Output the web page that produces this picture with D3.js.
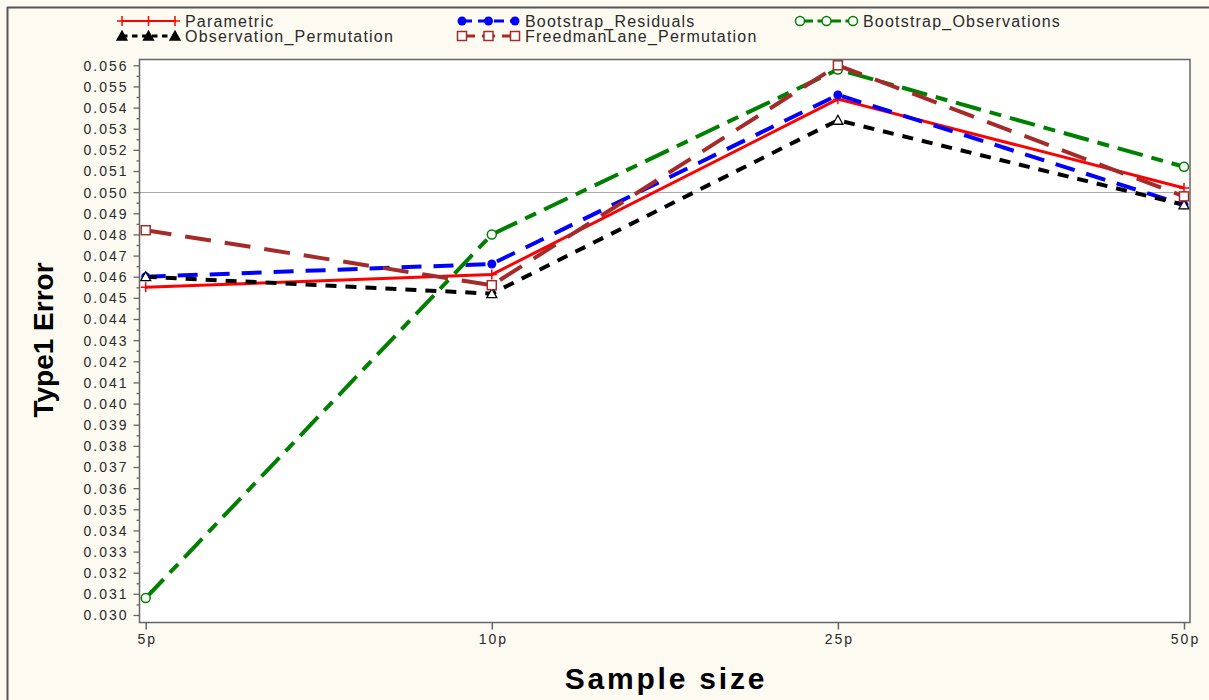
<!DOCTYPE html>
<html>
<head>
<meta charset="utf-8">
<script src="https://cdn.jsdelivr.net/npm/d3@7"></script>
<style>
  html, body { margin: 0; padding: 0; background: #fdfaf2; }
  svg { display: block; font-family: "Liberation Sans", Arial, sans-serif; }
</style>
</head>
<body>
<svg id="chart" width="1209" height="700"></svg>
<script>
// ---- data ----
const categories = ["5p", "10p", "25p", "50p"];
const parametric = [0.0455, 0.0461, 0.0544, 0.0502];
const bootstrapResiduals = [0.0460, 0.0466, 0.0546, 0.0494];
const bootstrapObservations = [0.0308, 0.0480, 0.0558, 0.0512];
const observationPermutation = [0.0460, 0.0452, 0.0534, 0.0494];
const freedmanLanePermutation = [0.0482, 0.0456, 0.0560, 0.0498];
const yTickValues = d3.range(30, 57).map(d => d / 1000);
const yMinorTicks = d3.range(30, 56).map(d => (d + 0.5) / 1000);
const referenceLine = 0.050;

const series = [
  { name: "Parametric", values: parametric, color: "#ff0000", dash: null, width: 3, marker: "plus" },
  { name: "Bootstrap_Residuals", values: bootstrapResiduals, color: "#0000ff", dash: "20,12", width: 4, marker: "dot" },
  { name: "Bootstrap_Observations", values: bootstrapObservations, color: "#008000", dash: "26,9,12,9", width: 4, marker: "ocircle" },
  { name: "Observation_Permutation", values: observationPermutation, color: "#000000", dash: "11,9", width: 4, marker: "triangle" },
  { name: "FreedmanLane_Permutation", values: freedmanLanePermutation, color: "#a52a2a", dash: "26,14", width: 4, marker: "square" }
];

// ---- layout ----
const svg = d3.select("#chart");
const plot = { left: 139.5, top: 59.5, right: 1190, bottom: 622.5 };

// outer frame (top & left edges visible)
svg.append("line").attr("x1", 7).attr("x2", 1209).attr("y1", 7.5).attr("y2", 7.5)
  .attr("stroke", "#555").attr("stroke-width", 2);
svg.append("line").attr("x1", 7.5).attr("x2", 7.5).attr("y1", 7).attr("y2", 700)
  .attr("stroke", "#555").attr("stroke-width", 2);

// plot background
svg.append("rect").attr("x", plot.left).attr("y", plot.top)
  .attr("width", plot.right - plot.left).attr("height", plot.bottom - plot.top)
  .attr("fill", "#ffffff");

const x = d3.scalePoint().domain(categories).range([145.7, 1184]);
const y = d3.scaleLinear().domain([0.030, 0.056]).range([615, 65.3]);

// reference line
svg.append("line").attr("x1", plot.left).attr("x2", plot.right)
  .attr("y1", Math.round(y(referenceLine)) + 0.5).attr("y2", Math.round(y(referenceLine)) + 0.5)
  .attr("stroke", "#aaaaaa").attr("stroke-width", 1);

// lines
const line = d3.line().x((d, i) => x(categories[i])).y(d => y(d));
const gLines = svg.append("g");
series.forEach(s => {
  gLines.append("path").datum(s.values)
    .attr("d", line)
    .attr("fill", "none")
    .attr("stroke", s.color)
    .attr("stroke-width", s.width)
    .attr("stroke-dasharray", s.dash)
    .attr("stroke-linejoin", "round");
});

function drawMarker(g, type, cx, cy, color, small) {
  if (type === "plus") {
    g.append("path").attr("d", `M${cx - 5},${cy}H${cx + 5}M${cx},${cy - 5}V${cy + 5}`)
      .attr("stroke", color).attr("stroke-width", 1.5).attr("fill", "none");
  } else if (type === "dot") {
    g.append("circle").attr("cx", cx).attr("cy", cy).attr("r", 4.5).attr("fill", color);
  } else if (type === "ocircle") {
    g.append("circle").attr("cx", cx).attr("cy", cy).attr("r", 4.5)
      .attr("fill", "#ffffff").attr("stroke", color).attr("stroke-width", 1.5);
  } else if (type === "triangle") {
    g.append("path").attr("d", `M${cx},${cy - 5}L${cx + 5},${cy + 4}L${cx - 5},${cy + 4}Z`)
      .attr("fill", small ? color : "#ffffff").attr("stroke", color).attr("stroke-width", 1.3);
  } else if (type === "square") {
    g.append("rect").attr("x", cx - 4.5).attr("y", cy - 4.5).attr("width", 9).attr("height", 9)
      .attr("fill", "#ffffff").attr("stroke", color).attr("stroke-width", 1.5);
  }
}

// markers
const gMarkers = svg.append("g");
series.forEach(s => {
  s.values.forEach((v, i) => drawMarker(gMarkers, s.marker, x(categories[i]), y(v), s.color, false));
});

// plot frame
svg.append("rect").attr("x", plot.left).attr("y", plot.top)
  .attr("width", plot.right - plot.left).attr("height", plot.bottom - plot.top)
  .attr("fill", "none").attr("stroke", "#666").attr("stroke-width", 1.5);

// y axis
const yAxis = svg.append("g").attr("transform", `translate(${plot.left},0)`)
  .call(d3.axisLeft(y).tickValues(yTickValues).tickFormat(d3.format(".3f")).tickSize(6).tickSizeOuter(0));
yAxis.select(".domain").remove();
yAxis.selectAll(".tick line").attr("stroke", "#666").attr("stroke-width", 1.3);
yAxis.selectAll(".tick text").attr("fill", "#2a2a2a").attr("font-size", 14)
  .attr("letter-spacing", "2px").attr("x", -11).attr("dy", "0.35em");
const yMinor = svg.append("g").attr("transform", `translate(${plot.left},0)`)
  .call(d3.axisLeft(y).tickValues(yMinorTicks).tickFormat("").tickSize(3).tickSizeOuter(0));
yMinor.select(".domain").remove();
yMinor.selectAll(".tick line").attr("stroke", "#666").attr("stroke-width", 1.3);

// x axis
const xAxis = svg.append("g").attr("transform", `translate(0,${plot.bottom})`)
  .call(d3.axisBottom(x).tickSize(7).tickSizeOuter(0));
xAxis.select(".domain").remove();
xAxis.selectAll(".tick line").attr("stroke", "#666").attr("stroke-width", 1.5);
xAxis.selectAll(".tick text").attr("fill", "#2a2a2a").attr("font-size", 14)
  .attr("letter-spacing", "2px").attr("y", 12).attr("dx", "1px");

// axis titles
svg.append("text").attr("transform", "translate(53,340) rotate(-90)")
  .attr("text-anchor", "middle").attr("font-size", 28).attr("font-weight", "bold")
  .attr("fill", "#000").text("Type1 Error");
svg.append("text").attr("x", 666).attr("y", 689)
  .attr("text-anchor", "middle").attr("font-size", 30).attr("font-weight", "bold")
  .attr("letter-spacing", "2.8px").attr("fill", "#000").text("Sample size");

// legend
const legendPos = [
  { x: 122, y: 21 }, { x: 462, y: 21 }, { x: 800, y: 21 },
  { x: 122, y: 36 }, { x: 462, y: 36 }
];
const gLegend = svg.append("g");
series.forEach((s, i) => {
  const p = legendPos[i];
  const w = 53;
  gLegend.append("line").attr("x1", p.x).attr("x2", p.x + w).attr("y1", p.y).attr("y2", p.y)
    .attr("stroke", s.color).attr("stroke-width", s.width - 1)
    .attr("stroke-dasharray", s.dash ? s.dash.split(",").map(d => +d / 2).join(",") : null);
  [0, w / 2, w].forEach(o => drawMarker(gLegend, s.marker, p.x + o, p.y, s.color, true));
  gLegend.append("text").attr("x", p.x + 63).attr("y", p.y + 5.5)
    .attr("font-size", 16).attr("letter-spacing", "1.2px").attr("fill", "#2a2a2a").text(s.name);
});
</script>
</body>
</html>
